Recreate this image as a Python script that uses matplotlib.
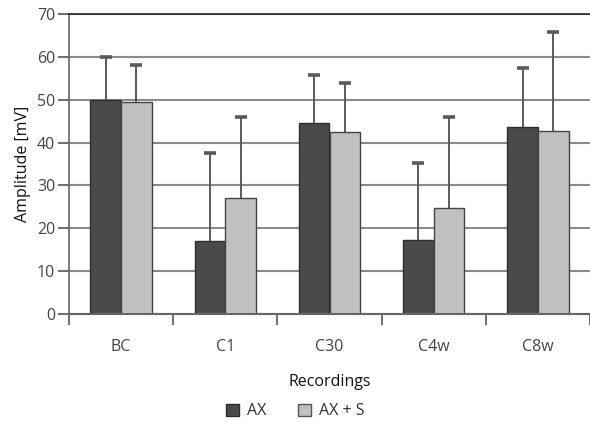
import matplotlib
matplotlib.use("Agg")
import matplotlib.pyplot as plt
import numpy as np
from matplotlib.patches import Patch

categories = ["BC", "C1", "C30", "C4w", "C8w"]
ax_vals = [50.0, 17.1, 44.5, 17.3, 43.6]
ax_err_top = [60.0, 37.6, 55.8, 35.2, 57.3]
axs_vals = [49.4, 27.1, 42.4, 24.8, 42.8]
axs_err_top = [58.2, 46.0, 54.0, 46.0, 65.8]
series_names = ["AX", "AX + S"]
yticks = [0, 10, 20, 30, 40, 50, 60, 70]

plt.rcParams['font.family'] = ['Open Sans', 'DejaVu Sans']

fig = plt.figure(figsize=(5.90, 4.23), dpi=100)
ax = fig.add_axes([69/590, 109/423, 1 - 69/590, 300/423])

x = np.arange(len(categories))
w = 0.295
dark = "#4a4a4a"
light = "#c0c0c0"
edge = "#2e2e2e"

ax.set_axisbelow(True)
ax.yaxis.grid(True, color="#8a8a8a", linewidth=1.5)

ax.bar(x - w/2, ax_vals, w, color=dark, edgecolor=edge, linewidth=1.0, zorder=2)
ax.bar(x + w/2, axs_vals, w, color=light, edgecolor="#444444", linewidth=1.0, zorder=2)

for xs, vals, tops in [(x - w/2, ax_vals, ax_err_top), (x + w/2, axs_vals, axs_err_top)]:
    vals = np.array(vals)
    err = np.array(tops) - vals
    _, caps, _ = ax.errorbar(xs, vals, yerr=[np.zeros_like(err), err], fmt="none",
                             ecolor="#5a5a5a", elinewidth=1.4, capsize=4.5, capthick=2.6, zorder=3)
    caps[0].set_visible(False)
    caps[1].set_color("#1e1e1e")

ax.set_ylim(0, 70)
ax.set_xlim(-0.5, 4.47)
ax.set_yticks(yticks)
ax.set_yticklabels([str(t) for t in yticks])
ax.set_xticks(x)
ax.set_xticklabels(categories)
ax.set_xticks(np.arange(-0.5, 4.6, 1.0), minor=True)
ax.tick_params(axis="x", which="major", length=0, pad=18, labelsize=11.5, labelcolor="#444444")
ax.tick_params(axis="x", which="minor", length=8, width=1.2, color="#555555", direction="out")
ax.tick_params(axis="y", length=8, width=1.2, color="#555555", labelsize=11.5, labelcolor="#444444", pad=2)

ax.spines["right"].set_visible(False)
ax.spines["top"].set_color("#222222")
ax.spines["top"].set_linewidth(1.2)
ax.spines["left"].set_color("#666666")
ax.spines["left"].set_linewidth(1.2)
ax.spines["bottom"].set_color("#666666")
ax.spines["bottom"].set_linewidth(1.5)

ax.set_ylabel("Amplitude [mV]", fontsize=11.5, color="#111111", labelpad=4)
ax.set_xlabel("Recordings", fontsize=11.5, color="#111111", labelpad=14)

handles = [Patch(facecolor=dark, edgecolor=edge), Patch(facecolor=light, edgecolor="#555555")]
fig.legend(handles, series_names, loc="lower center", bbox_to_anchor=(0.5, -0.025), ncol=2,
           frameon=False, fontsize=11.5, handlelength=0.8, handleheight=0.8, handletextpad=0.5,
           columnspacing=2.0, labelcolor="#333333")

fig.savefig("out.png", dpi=100)
